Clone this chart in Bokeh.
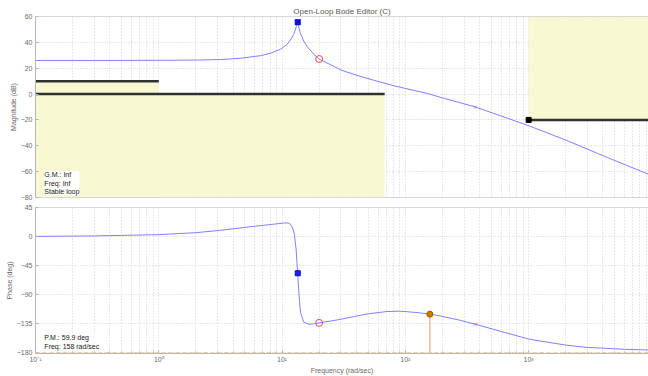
from bokeh.plotting import figure
from bokeh.layouts import column
from bokeh.models import Range1d, FixedTicker, Label, Span
from bokeh.embed import file_html
from bokeh.resources import INLINE

# ---------------- data ----------------
mag_freq = [0.1, 0.3, 1, 2, 3.16, 4.6, 6.7, 8, 9.7, 11, 11.7, 12.4, 12.8, 13.1, 13.4,
            13.7, 14.1, 15, 16, 18, 20, 25, 30, 42, 60, 80, 150, 193, 370, 600, 1035,
            2050, 4330, 9380]
mag_db = [26.0, 26.0, 26.1, 26.3, 26.7, 27.7, 29.7, 31.5, 34.6, 38.5, 41.9, 46.0, 49.6, 53.0, 55.6,
          51.0, 47.0, 41.0, 36.7, 31.0, 27.1, 22.5, 18.6, 14.0, 9.8, 6.5, 0.5, -2.5, -10.0, -17.0, -25.0,
          -36.0, -49.0, -62.0]

phase_freq = [0.1, 0.3, 1, 2, 3.16, 5.86, 8, 10.3, 11.2, 11.7, 12.2, 12.6, 13.0, 13.2, 13.4,
              13.6, 13.85, 14.1, 15.0, 16.5, 18, 20, 28, 38, 50, 71, 90, 103, 130, 158,
              193, 270, 370, 600, 1020, 2000, 2980, 3800, 6000, 9380]
phase_deg = [0.3, 1.0, 3.0, 6.0, 9.7, 15.8, 18.5, 21.0, 21.0, 19.0, 13.0, 3.0, -20.0, -40.0, -56.8,
             -80.0, -100.0, -117.0, -132.6, -135.7, -135.0, -133.6, -129.0, -124.0, -119.5, -116.0, -115.5, -116.3, -118.0, -120.1,
             -123.0, -129.0, -135.7, -147.0, -159.0, -168.0, -171.6, -172.5, -174.5, -175.5]

freq_min, freq_max = 0.1, 9380
mag_min, mag_max = -80, 60
phase_min, phase_max = -181, 45
mag_ticks = [-80, -60, -40, -20, 0, 20, 40, 60]
phase_ticks = [-180, -135, -90, -45, 0, 45]
freq_ticks = [0.1, 1, 10, 100, 1000]
freq_tick_labels = ["10⁻¹", "10⁰", "10¹", "10²", "10³"]

# compensator poles / zeros
pole_freq, pole_mag, pole_phase = [13.4], [55.6], [-56.8]
zero_freq, zero_mag, zero_phase = [20], [27.1], [-133.6]
far_pole_freq, far_pole_mag, far_pole_phase = [370], [-10.0], [-135.7]

# design constraints (magnitude bounds)
bound1_freq, bound1_db = [0.1, 1], 10
bound2_freq, bound2_db = [0.1, 68], 0
bound3_freq, bound3_db = [1000, 9380], -20

# stability margins
pm_deg, pm_freq = 59.9, 158
gm_text = "G.M.: Inf\nFreq: Inf\nStable loop"
pm_text = "P.M.: 59.9 deg\nFreq: 158 rad/sec"

# ---------------- styling ----------------
FONT = "Liberation Sans"
GRID = "#d0d0d0"
AXC = "#b4b4b4"
TXT = "#6a6a6a"
CURVE = "#8080ff"
YELLOW = "#f8f8d2"
BLACK = "#303030"

minor = [m * d for d in [0.1, 1, 10, 100, 1000] for m in range(2, 10)]
xticker = FixedTicker(ticks=freq_ticks, minor_ticks=minor)


def style(p, yticks):
    p.outline_line_color = None
    p.background_fill_color = "white"
    p.border_fill_color = "white"
    for ax in p.axis:
        ax.axis_line_color = AXC
        ax.major_tick_line_color = AXC
        ax.minor_tick_line_color = AXC
        ax.major_tick_in = 3
        ax.major_tick_out = 0
        ax.minor_tick_in = 2
        ax.minor_tick_out = 0
        ax.major_label_text_font = FONT
        ax.major_label_text_font_size = "7px"
        ax.major_label_text_color = TXT
        ax.axis_label_text_font = FONT
        ax.axis_label_text_font_size = "7px"
        ax.axis_label_text_font_style = "normal"
        ax.axis_label_text_color = TXT
        ax.major_label_standoff = 3
        ax.axis_label_standoff = 1
    p.xaxis.ticker = xticker
    p.yaxis.ticker = FixedTicker(ticks=yticks)
    p.yaxis.minor_tick_line_color = None
    p.xgrid.ticker = xticker
    p.xgrid.grid_line_color = GRID
    p.xgrid.grid_line_dash = "1 2"
    p.xgrid.minor_grid_line_color = GRID
    p.xgrid.minor_grid_line_dash = "1 2"
    p.ygrid.grid_line_color = GRID
    p.ygrid.grid_line_dash = "1 2"


# ---------------- magnitude panel ----------------
p1 = figure(width=648, height=202, x_axis_type="log",
            x_range=Range1d(freq_min, freq_max), y_range=Range1d(mag_min, mag_max),
            output_backend="svg", toolbar_location=None,
            min_border_left=35, min_border_right=0, min_border_top=16, min_border_bottom=5)
p1.title.text = "Open-Loop Bode Editor (C)"
p1.title.align = "center"
p1.title.text_font = FONT
p1.title.text_font_size = "8px"
p1.title.text_font_style = "normal"
p1.title.text_color = "#5a5a5a"
p1.title.standoff = 2
style(p1, mag_ticks)
p1.yaxis.axis_label = "Magnitude (dB)"
p1.xaxis.visible = False
p1.add_layout(Span(location=mag_max, dimension="width", line_color=AXC, line_width=1))
p1.add_layout(Span(location=mag_min, dimension="width", line_color=AXC, line_width=1))

# constraint regions
p1.quad(left=[bound1_freq[0]], right=[bound1_freq[1]], bottom=[mag_min], top=[bound1_db],
        fill_color=YELLOW, line_color=None)
p1.quad(left=[bound2_freq[0]], right=[bound2_freq[1]], bottom=[mag_min], top=[bound2_db],
        fill_color=YELLOW, line_color=None)
p1.quad(left=[bound3_freq[0]], right=[bound3_freq[1]], bottom=[bound3_db], top=[mag_max],
        fill_color=YELLOW, line_color=None)
p1.line(bound1_freq, [bound1_db, bound1_db], line_color=BLACK, line_width=2.5)
p1.line(bound2_freq, [bound2_db, bound2_db], line_color=BLACK, line_width=2.5)
p1.line(bound3_freq, [bound3_db, bound3_db], line_color=BLACK, line_width=2.5)
p1.scatter([bound3_freq[0]], [bound3_db], marker="square", size=5, fill_color="black", line_color="black")

p1.line(mag_freq, mag_db, line_color=CURVE, line_width=1)
p1.scatter(pole_freq, pole_mag, marker="square_x", size=5, fill_color="#2020ff", line_color="#0000cc")
p1.scatter(zero_freq, zero_mag, marker="circle", size=7, fill_color=None, line_color="#e05050")
p1.scatter(far_pole_freq, far_pole_mag, marker="x", size=4, line_color="#e070a0")

p1.add_layout(Label(x=0.118, y=-78, text=gm_text, text_font=FONT, text_font_size="7px",
                    text_color="#202020", background_fill_color="white"))

# ---------------- phase panel ----------------
p2 = figure(width=648, height=174, x_axis_type="log",
            x_range=p1.x_range, y_range=Range1d(phase_min, phase_max),
            output_backend="svg", toolbar_location=None,
            min_border_left=35, min_border_right=0, min_border_top=5, min_border_bottom=21)
style(p2, phase_ticks)
p2.yaxis.axis_label = "Phase (deg)"
p2.xaxis.axis_label = "Frequency (rad/sec)"
p2.xaxis.major_label_overrides = dict(zip(freq_ticks, freq_tick_labels))
p2.xaxis.major_label_standoff = 2
p2.xaxis.axis_label_standoff = 1
p2.add_layout(Span(location=phase_max, dimension="width", line_color=AXC, line_width=1))
p2.add_layout(Span(location=-180, dimension="width", line_color="#f0c890", line_width=1.2,
                   line_dash="4 3"))

pm_phase = -180 + pm_deg
p2.segment(x0=[pm_freq], y0=[-180], x1=[pm_freq], y1=[pm_phase], line_color="#d8a070", line_width=1)
p2.line(phase_freq, phase_deg, line_color=CURVE, line_width=1)
p2.scatter(pole_freq, pole_phase, marker="square", size=5, fill_color="#2020ff", line_color="#0000cc")
p2.scatter(zero_freq, zero_phase, marker="circle", size=7, fill_color=None, line_color="#e05050")
p2.scatter(far_pole_freq, far_pole_phase, marker="x", size=4, line_color="#e070a0")
p2.scatter([pm_freq], [pm_phase], marker="circle", size=6, fill_color="#cc7a00", line_color="#a05a00")

p2.add_layout(Label(x=0.118, y=-175, text=pm_text, text_font=FONT, text_font_size="7px",
                    text_color="#202020", background_fill_color="white"))

layout = column(p1, p2, spacing=0)
open("out.html", "w").write(file_html(layout, INLINE))
